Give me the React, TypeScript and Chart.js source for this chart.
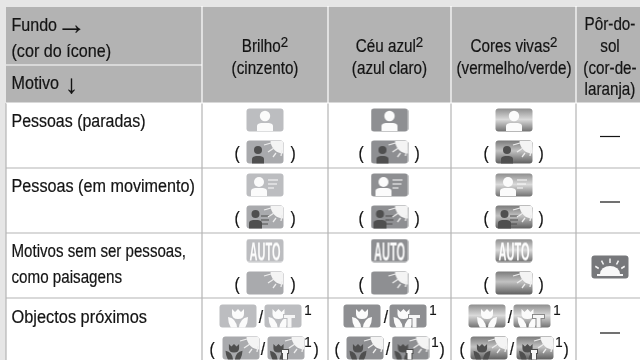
import React, { useEffect, useRef } from "react";
import { Chart, registerables } from "chart.js";

Chart.register(...registerables);

// ---- table content ----
const cornerTop = ["Fundo", "(cor do ícone)"];
const cornerBottom = "Motivo";
const arrowRight = "→";
const arrowDown = "↓";
const columnHeads = [
  { lines: [["Brilho", "2"], ["(cinzento)", ""]] },
  { lines: [["Céu azul", "2"], ["(azul claro)", ""]] },
  { lines: [["Cores vivas", "2"], ["(vermelho/verde)", ""]] },
  { lines: [["Pôr-do-", ""], ["sol", ""], ["(cor-de-", ""], ["laranja)", ""]] },
];
const rowLabels = [
  ["Pessoas (paradas)"],
  ["Pessoas (em movimento)"],
  ["Motivos sem ser pessoas,", "como paisagens"],
  ["Objectos próximos"],
];
const iconStyles = ["grey", "blue", "vivid"];
const rowMotifs = ["person", "moving", "auto"];
const sunMotifs = ["person", "moving", "blank"];
const dashRows = [0, 1, 3];

// ---- table geometry in scale units ----
const columnEdges = [6, 202, 328, 451, 576, 640];
const rowEdges = [7, 103, 168, 233, 298, 361];
const cornerSplit = 65;
const columnCentres = [265, 389.5, 514, 610];
const iconLineY = [120, 185, 250.5];
const sunLineY = [152, 217, 283];
const parenX = [[237, 293], [361, 417], [486, 541]];
const doubleTopX = [[238, 283], [362, 408], [487, 532]];
const doubleLowX = [[241, 286], [365, 410.5], [489, 535]];
const doubleTopY = 316;
const doubleLowY = 348;
const slashTopX = [261, 386, 510];
const slashLowX = [263, 388, 512];
const noteTopX = [308, 433, 557];
const noteLowX = [308, 435, 559];
const closeLowX = [316, 442, 566];
const openLowX = [212, 337, 462];
const dashY = [136.5, 202, 0, 333];
const sunsetY = 267;
const rowLabelBase = [[127], [192], [257, 283], [323]];
const rowLabelWidth = [[134], [183.5], [174.5, 110.5], [135.5]];

const PAGE = "#e6e6e6";
const HEAD = "#b3b3b3";
const RULE = "#b4b4b4";
const INK = "#141414";

function roundedPath(c: CanvasRenderingContext2D, w: number, h: number, r: number) {
  c.beginPath();
  c.roundRect(0.5, 0.5, w - 1, h - 1, r);
}

function drawPerson(c: CanvasRenderingContext2D, x: number, hy: number, r: number, bw: number, by: number, bottom: number) {
  c.beginPath();
  c.arc(x, hy, r, 0, Math.PI * 2);
  c.fill();
  c.beginPath();
  c.moveTo(x - bw, bottom);
  c.lineTo(x - bw, by + 3);
  c.quadraticCurveTo(x - bw, by + 0.5, x - bw + 4, by);
  c.lineTo(x + bw - 4, by);
  c.quadraticCurveTo(x + bw, by + 0.5, x + bw, by + 3);
  c.lineTo(x + bw, bottom);
  c.closePath();
  c.fill();
}

function drawFlower(c: CanvasRenderingContext2D, cx: number, top: number, s: number, bottom: number) {
  c.beginPath();
  c.moveTo(cx - 6 * s, top);
  c.lineTo(cx - 3 * s, top + 3 * s);
  c.lineTo(cx, top);
  c.lineTo(cx + 3 * s, top + 3 * s);
  c.lineTo(cx + 6 * s, top);
  c.lineTo(cx + 6 * s, top + 5 * s);
  c.quadraticCurveTo(cx + 6 * s, top + 10 * s, cx, top + 10 * s);
  c.quadraticCurveTo(cx - 6 * s, top + 10 * s, cx - 6 * s, top + 5 * s);
  c.closePath();
  c.fill();
  for (const d of [-1, 1]) {
    c.beginPath();
    c.moveTo(cx + d * 10 * s, top + 8 * s);
    c.quadraticCurveTo(cx + d * 2 * s, top + 9 * s, cx + d * 0.8, bottom);
    c.lineTo(cx + d * 7 * s, bottom);
    c.quadraticCurveTo(cx + d * 10 * s, bottom - 5, cx + d * 10 * s, top + 8 * s);
    c.closePath();
    c.fill();
  }
}

function drawTee(c: CanvasRenderingContext2D, x: number, y: number, w: number, edge: string) {
  c.fillStyle = edge;
  c.fillRect(x - 1, y - 1, w + 2, 5);
  c.fillRect(x + w / 2 - 3, y + 3, 6, 24 - y - 3);
  c.fillStyle = "#f6f6f6";
  c.fillRect(x, y, w, 3);
  c.fillRect(x + w / 2 - 2, y + 3, 4, 24 - y - 3);
}

function drawSun(c: CanvasRenderingContext2D) {
  c.fillStyle = "#f4f4f4";
  c.beginPath();
  c.moveTo(37, 1);
  c.lineTo(24.5, 1);
  c.arc(37.5, 0.5, 13, Math.PI, Math.PI / 2, true);
  c.closePath();
  c.fill();
  c.strokeStyle = "#ededed";
  c.lineWidth = 1.3;
  const rays = [[18, 5, 25, 3], [22, 12, 28, 8], [27, 17, 30, 13], [35, 16, 36, 10]];
  for (const [a, b, d, e] of rays) {
    c.beginPath();
    c.moveTo(a, b);
    c.lineTo(d, e);
    c.stroke();
  }
}

function makeIcon(style: string, motif: string, sun: boolean) {
  const cv = document.createElement("canvas");
  cv.width = 38;
  cv.height = 24;
  const c = cv.getContext("2d")!;
  roundedPath(c, 38, 24, 3);
  let edge = "#a0a0a0";
  if (style === "vivid") {
    const g = c.createLinearGradient(0, 0, 0, 24);
    if (sun) {
      g.addColorStop(0, "#777777");
      g.addColorStop(0.45, "#c2c2c2");
      g.addColorStop(1, "#5c5c5c");
    } else {
      g.addColorStop(0, "#8b8b8b");
      g.addColorStop(0.48, "#dadada");
      g.addColorStop(1, "#6d6d6d");
    }
    c.fillStyle = g;
    edge = "#8a8a8a";
  } else if (style === "blue") {
    c.fillStyle = "#8e8f92";
    edge = "#8e8f92";
  } else if (style === "dark") {
    c.fillStyle = "#77787b";
  } else {
    c.fillStyle = sun ? "#a9aaad" : "#bcbdc0";
    edge = sun ? "#a9aaad" : "#bcbdc0";
  }
  c.fill();
  c.save();
  roundedPath(c, 38, 24, 3);
  c.clip();

  const body = sun ? "#4f4f4f" : "#fbfbfb";
  c.fillStyle = body;
  c.strokeStyle = body;
  if (motif === "person") {
    if (sun) drawPerson(c, 12, 10, 4, 6, 16, 24);
    else drawPerson(c, 19, 8, 5.2, 8, 15, 23);
  } else if (motif === "moving") {
    if (sun) drawPerson(c, 9.5, 9, 4, 6.5, 15, 24);
    else drawPerson(c, 13, 9, 5, 8, 15, 23);
    c.lineWidth = 1.2;
    const lx = sun ? 15 : 22;
    const lens = sun ? [9, 8, 7] : [10, 9, 6];
    [7, 11, 15].forEach((y, i) => {
      c.beginPath();
      c.moveTo(lx, sun ? y + 4 : y);
      c.lineTo(lx + lens[i], sun ? y + 4 : y);
      c.stroke();
    });
  } else if (motif === "auto") {
    c.fillStyle = "#fcfcfc";
    c.font = "bold 25px 'Liberation Sans'";
    c.textBaseline = "alphabetic";
    c.textAlign = "center";
    const m = c.measureText("AUTO").width;
    c.save();
    c.translate(19, 21.5);
    c.scale(31 / m, 1);
    c.fillText("AUTO", 0, 0);
    c.restore();
  } else if (motif === "macro") {
    if (sun) drawFlower(c, 12, 8, 0.85, 24);
    else drawFlower(c, 19, 5, 1, 24);
  } else if (motif === "macrotele") {
    if (sun) {
      drawFlower(c, 11.5, 8, 0.85, 24);
      drawTee(c, 15, 14, 6, "#4f4f4f");
    } else {
      drawFlower(c, 14.5, 5, 1, 24);
      drawTee(c, 20, 11, 11, edge);
    }
  } else if (motif === "sunset") {
    c.fillStyle = "#f8f8f8";
    c.beginPath();
    c.ellipse(19, 19, 10, 8, 0, Math.PI, 0);
    c.closePath();
    c.fill();
    c.fillRect(6, 19, 26, 2);
    c.strokeStyle = "#f4f4f4";
    c.lineWidth = 1.5;
    for (const ang of [30, 60, 90, 120, 150]) {
      const t = (ang * Math.PI) / 180;
      c.beginPath();
      c.moveTo(19 + Math.cos(t) * 13, 19 - Math.sin(t) * 11);
      c.lineTo(19 + Math.cos(t) * 17, 19 - Math.sin(t) * 15.5);
      c.stroke();
    }
  }
  if (sun) drawSun(c);
  c.restore();
  return cv;
}

function buildPoints() {
  const pts: { x: number; y: number; icon: string }[] = [];
  iconStyles.forEach((style, col) => {
    rowMotifs.forEach((motif, row) => {
      pts.push({ x: columnCentres[col], y: iconLineY[row], icon: `${style}|${motif}|0` });
      pts.push({ x: columnCentres[col], y: sunLineY[row], icon: `${style}|${sunMotifs[row]}|1` });
    });
    doubleTopX[col].forEach((x, i) =>
      pts.push({ x, y: doubleTopY, icon: `${style}|${i ? "macrotele" : "macro"}|0` })
    );
    doubleLowX[col].forEach((x, i) =>
      pts.push({ x, y: doubleLowY, icon: `${style}|${i ? "macrotele" : "macro"}|1` })
    );
  });
  pts.push({ x: columnCentres[3], y: sunsetY, icon: "dark|sunset|0" });
  return pts;
}

const tablePlugin = {
  id: "tablePlugin",
  beforeDatasetsDraw(chart: any) {
    const { ctx, scales } = chart;
    const X = (v: number) => scales.x.getPixelForValue(v);
    const Y = (v: number) => scales.y.getPixelForValue(v);
    const right = columnEdges[columnEdges.length - 1];
    const bottom = rowEdges[rowEdges.length - 1];
    ctx.save();
    ctx.fillStyle = PAGE;
    ctx.fillRect(0, 0, chart.width, chart.height);
    ctx.fillStyle = "#ffffff";
    ctx.fillRect(X(columnEdges[0]), Y(rowEdges[1]), X(right) - X(columnEdges[0]), Y(bottom) - Y(rowEdges[1]));
    ctx.fillStyle = HEAD;
    ctx.fillRect(X(columnEdges[0]), Y(rowEdges[0]), X(right) - X(columnEdges[0]), Y(rowEdges[1]) - Y(rowEdges[0]));
    ctx.lineWidth = 1.2;
    const line = (x0: number, y0: number, x1: number, y1: number, col: string) => {
      ctx.strokeStyle = col;
      ctx.beginPath();
      ctx.moveTo(X(x0), Y(y0));
      ctx.lineTo(X(x1), Y(y1));
      ctx.stroke();
    };
    columnEdges.slice(1, -1).forEach((e) => {
      line(e, rowEdges[0] - 1, e, rowEdges[1], "#ffffff");
      line(e, rowEdges[1], e, bottom, RULE);
    });
    line(columnEdges[0], rowEdges[1], columnEdges[0], bottom, RULE);
    line(columnEdges[0], cornerSplit, columnEdges[1], cornerSplit, "#ffffff");
    line(columnEdges[0], rowEdges[1], right, rowEdges[1], "#ffffff");
    rowEdges.slice(2, -1).forEach((e) => line(columnEdges[0], e, right, e, RULE));
    ctx.restore();
  },
  afterDatasetsDraw(chart: any) {
    const { ctx, scales } = chart;
    const X = (v: number) => scales.x.getPixelForValue(v);
    const Y = (v: number) => scales.y.getPixelForValue(v);
    const put = (t: string, x: number, y: number, sx = 0.92, size = 17.5, align = "left") => {
      ctx.save();
      ctx.font = `${size}px 'Liberation Sans'`;
      ctx.fillStyle = INK;
      ctx.strokeStyle = INK;
      ctx.lineWidth = 0.2;
      ctx.textBaseline = "alphabetic";
      const w = ctx.measureText(t).width * sx;
      const left = align === "center" ? x - w / 2 : x;
      ctx.translate(X(left), Y(y));
      ctx.scale(sx, 1);
      ctx.fillText(t, 0, 0);
      ctx.strokeText(t, 0, 0);
      ctx.restore();
      return w;
    };
    const fit = (t: string, x: number, y: number, width: number) => {
      ctx.font = "17.5px 'Liberation Sans'";
      put(t, x, y, width / ctx.measureText(t).width);
    };
    // corner cell
    fit(cornerTop[0], 11.5, 31, 45.5);
    fit(cornerTop[1], 11.5, 57, 99.5);
    fit(cornerBottom, 11.5, 89, 47.5);
    put(arrowRight, 56.5, 34, 1, 30);
    put(arrowDown, 71.5, 93, 1, 26, "center");
    // column heads
    const headBase = [[52, 74], [52, 74], [52, 74], [30, 52, 74, 95]];
    columnHeads.forEach((h, i) => {
      h.lines.forEach(([txt, sup], l) => {
        ctx.font = "17.5px 'Liberation Sans'";
        const sx = 0.87;
        const w = ctx.measureText(txt).width * sx;
        ctx.font = "14px 'Liberation Sans'";
        const sw = sup ? ctx.measureText(sup).width * 0.95 : 0;
        const start = columnCentres[i] - (w + sw) / 2;
        put(txt, start, headBase[i][l], sx);
        if (sup) put(sup, start + w, headBase[i][l] - 5, 0.95, 14);
      });
    });
    // row labels
    rowLabels.forEach((lines, r) =>
      lines.forEach((t, l) => fit(t, 11.5, rowLabelBase[r][l], rowLabelWidth[r][l]))
    );
    // brackets
    iconStyles.forEach((_, c) => {
      sunLineY.forEach((y) => {
        put("(", parenX[c][0], y + 7, 0.9, 17.5, "center");
        put(")", parenX[c][1], y + 7, 0.9, 17.5, "center");
      });
      put("/", slashTopX[c], doubleTopY + 7, 0.9, 17.5, "center");
      put("/", slashLowX[c], doubleLowY + 7, 0.9, 17.5, "center");
      put("1", noteTopX[c], doubleTopY - 1, 0.95, 14, "center");
      put("1", noteLowX[c], doubleLowY - 1, 0.95, 14, "center");
      put("(", openLowX[c], doubleLowY + 7, 0.9, 17.5, "center");
      put(")", closeLowX[c], doubleLowY + 7, 0.9, 17.5, "center");
    });
    // dashes
    dashRows.forEach((r) => {
      ctx.fillStyle = INK;
      ctx.fillRect(X(columnCentres[3] - 10), Y(dashY[r]) - 0.6, 20, 1.2);
    });
  },
};

export default function App() {
  const ref = useRef<HTMLCanvasElement | null>(null);
  useEffect(() => {
    document.body.style.margin = "0";
    const cache: Record<string, HTMLCanvasElement> = {};
    const points = buildPoints();
    points.forEach((p) => {
      if (!cache[p.icon]) {
        const [s, m, f] = p.icon.split("|");
        cache[p.icon] = makeIcon(s, m, f === "1");
      }
    });
    const chart = new Chart(ref.current!, {
      type: "scatter",
      data: {
        datasets: [
          {
            label: "Ícones",
            data: points,
            pointStyle: (ctx: any) => cache[ctx.raw.icon],
            pointRadius: 19,
            clip: false,
          } as any,
        ],
      },
      options: {
        animation: false,
        responsive: false,
        layout: { padding: 0, autoPadding: false },
        plugins: { legend: { display: false }, tooltip: { enabled: false } },
        scales: {
          x: { type: "linear", min: 0, max: 640, display: false },
          y: { type: "linear", min: 0, max: 360, reverse: true, display: false },
        },
      },
      plugins: [tablePlugin],
    });
    return () => chart.destroy();
  }, []);
  return (
    <div style={{ width: 640, height: 360 }}>
      <canvas ref={ref} width={640} height={360} style={{ display: "block" }} />
    </div>
  );
}
